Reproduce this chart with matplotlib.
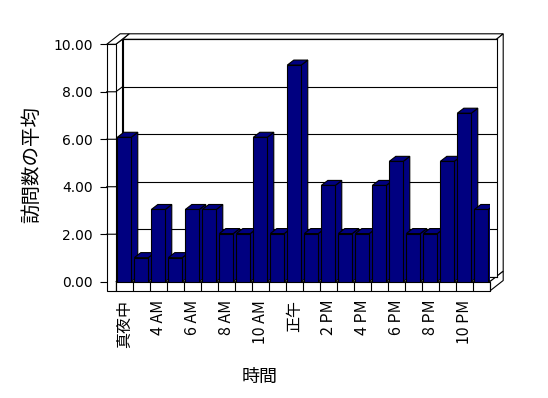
import matplotlib
matplotlib.use("Agg")
import matplotlib.pyplot as plt
from matplotlib.patches import Polygon

plt.rcParams['font.family'] = ['Noto Sans CJK JP', 'DejaVu Sans']

# ---- data ----
categories = ["真夜中", "2 AM", "4 AM", "5 AM", "6 AM", "7 AM", "8 AM", "9 AM",
              "10 AM", "11 AM", "正午", "1 PM", "2 PM", "3 PM", "4 PM", "5 PM",
              "6 PM", "7 PM", "8 PM", "9 PM", "10 PM", "11 PM"]
values = [6, 1, 3, 1, 3, 3, 2, 2, 6, 2, 9, 2, 4, 2, 2, 4, 5, 2, 2, 5, 7, 3]
yticks = [0, 2, 4, 6, 8, 10]
ytick_labels = ["0.00", "2.00", "4.00", "6.00", "8.00", "10.00"]
x_title = "時間"
y_title = "訪問数の平均"

# ---- layout (pixels) ----
W, H = 548, 398
FX0, PITCH = 115.8, 17.0
N = len(values)
FX1 = FX0 + PITCH * N
FY0 = 281.7          # front zero line
PXU_BAR = 24.07      # px per unit on bar front plane
DX, DY = 6.7, -5.0   # depth offset to back wall
TX, TY = 6.7, -5.5   # wall thickness
BYTOP = 39.3
BY0 = FY0 + DY
FLOOR_BOT = 291.0
LW_TOP = BYTOP - DY  # left wall top at front
NAVY = "#000080"
LW = 0.8

fig = plt.figure(figsize=(W / 100, H / 100), dpi=100)
fig.patch.set_facecolor("white")

deco = fig.add_axes([0, 0, 1, 1], zorder=0)
deco.set_xlim(0, W)
deco.set_ylim(H, 0)
deco.axis("off")

def poly(pts, fc="white"):
    deco.add_patch(Polygon(pts, closed=True, facecolor=fc, edgecolor="black", lw=LW))

lwx0 = 106.7
# back wall top & right thickness
poly([(FX0 + DX, BYTOP), (FX1 + DX, BYTOP), (FX1 + DX + TX, BYTOP + TY), (FX0 + DX + TX, BYTOP + TY)])
poly([(FX1 + DX, BYTOP), (FX1 + DX + TX, BYTOP + TY), (FX1 + DX + TX, BY0 + TY), (FX1 + DX, BY0)])
# left wall inner face
poly([(FX0, LW_TOP), (FX0 + DX, BYTOP), (FX0 + DX, BY0), (FX0, FY0)])
# left wall top
poly([(lwx0, LW_TOP), (FX0, LW_TOP), (FX0 + DX + TX, LW_TOP + DY + TY), (lwx0 + DX + TX, LW_TOP + DY + TY)])
# left wall front face
poly([(lwx0, LW_TOP), (FX0, LW_TOP), (FX0, FLOOR_BOT), (lwx0, FLOOR_BOT)])
# gridlines continuing on the left wall
for v in yticks[1:-1]:
    yf = FY0 - v * (FY0 - LW_TOP) / 10
    yb = BY0 - v * (BY0 - BYTOP) / 10
    deco.plot([lwx0, FX0, FX0 + DX], [yf, yf, yb], color="black", lw=LW)
# floor top
poly([(FX0, FY0), (FX1, FY0), (FX1 + DX, BY0), (FX0 + DX, BY0)])
# floor right side
poly([(FX1, FY0), (FX1, FLOOR_BOT), (FX1 + DX + TX, FLOOR_BOT + DY + TY), (FX1 + DX + TX, FY0 + DY + TY)])
# floor front face
poly([(FX0, FY0), (FX1, FY0), (FX1, FLOOR_BOT), (FX0, FLOOR_BOT)])

# back wall with gridlines
axb = fig.add_axes([(FX0 + DX) / W, (H - BY0) / H, (FX1 - FX0) / W, (BY0 - BYTOP) / H], zorder=1)
axb.set_facecolor("white")
axb.set_xlim(0, 1)
axb.set_ylim(0, 10)
axb.set_xticks([])
axb.set_yticks(yticks)
axb.tick_params(left=False, labelleft=False)
axb.grid(axis="y", color="black", lw=LW)
for s in axb.spines.values():
    s.set_linewidth(LW)

# y tick axis on left wall front edge
axy = fig.add_axes([lwx0 / W, (H - FY0) / H, 0.001, (FY0 - LW_TOP) / H], zorder=2)
axy.set_facecolor("none")
axy.set_ylim(0, 10)
axy.set_yticks(yticks)
axy.set_yticklabels(ytick_labels, fontsize=10, family=['DejaVu Sans'])
axy.tick_params(axis="y", length=5, width=LW, pad=5)
axy.xaxis.set_visible(False)
for s in axy.spines.values():
    s.set_visible(False)

# bars
ax = fig.add_axes([FX0 / W, (H - FY0) / H, (FX1 - FX0) / W, 10 * PXU_BAR / H], zorder=3)
ax.set_facecolor("none")
ax.set_xlim(-0.5, N - 0.5)
ax.set_ylim(0, 10)
for s in ax.spines.values():
    s.set_visible(False)
ax.yaxis.set_visible(False)

bw = 0.82
ddx = 6.5 / PITCH
ddy = 5.0 / PXU_BAR
idx = list(range(N))
for i, v in zip(idx, values):
    z = 10 + 3 * i
    r = i + bw / 2
    l = i - bw / 2
    ax.add_patch(Polygon([(r, 0), (r + ddx, ddy), (r + ddx, v + ddy), (r, v)],
                         facecolor=NAVY, edgecolor="black", lw=LW, zorder=z))
    ax.add_patch(Polygon([(l, v), (r, v), (r + ddx, v + ddy), (l + ddx, v + ddy)],
                         facecolor=NAVY, edgecolor="black", lw=LW, zorder=z + 1))
    ax.bar(i, v, width=bw, color=NAVY, edgecolor="black", lw=LW, zorder=z + 2)

fdrop = (FLOOR_BOT - FY0) / PXU_BAR
ax.vlines([k - 0.5 for k in range(N + 1)], -fdrop, 0, colors="black", lw=LW, clip_on=False)

ax.set_xticks(idx[::2])
ax.set_xticklabels(categories[::2], rotation=90, fontsize=11.5, va="top", ha="center")
ax.tick_params(axis="x", length=0, pad=13)

fig.text(260 / W, 1 - 377 / H, x_title, fontsize=13, ha="center", va="center")
fig.text(32 / W, 1 - 165 / H, y_title, fontsize=14, ha="center", va="center", rotation=90)

fig.savefig("out.png", dpi=100)
